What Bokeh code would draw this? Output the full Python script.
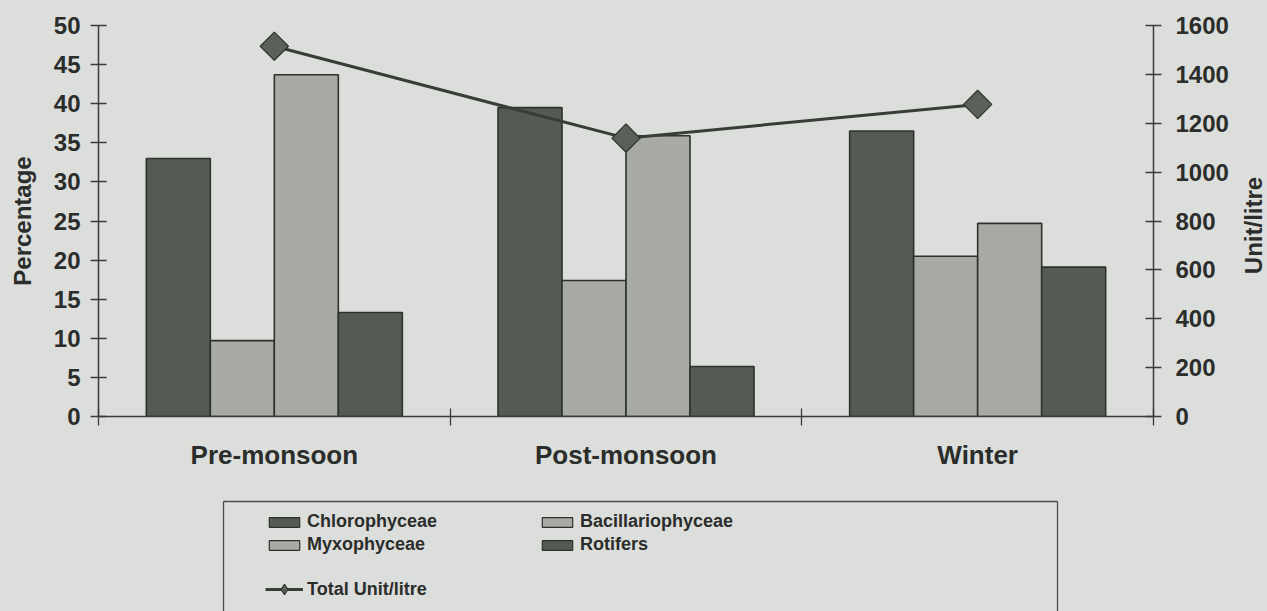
import math
from bokeh.plotting import figure
from bokeh.layouts import column, row
from bokeh.models import (ColumnDataSource, Range1d, LinearAxis, FixedTicker,
                          Legend, LegendItem)
from bokeh.core.properties import value
from bokeh.transform import dodge
from bokeh.embed import file_html
from bokeh.resources import INLINE

# ---------------- data ----------------
seasons = ["Pre-monsoon", "Post-monsoon", "Winter"]
chlorophyceae = [33.0, 39.5, 36.5]
bacillariophyceae = [9.7, 17.4, 20.5]
myxophyceae = [43.7, 35.9, 24.7]
rotifers = [13.3, 6.4, 19.1]
total_unit_litre = [1515, 1139, 1277]
left_ticks = [0, 5, 10, 15, 20, 25, 30, 35, 40, 45, 50]
right_ticks = [0, 200, 400, 600, 800, 1000, 1200, 1400, 1600]

# ---------------- style ----------------
BG = "#dcdedc"
DARK = "#555b53"
LIGHT = "#a8aaa6"
EDGE = "#2e312d"
TXT = "#2b2d2b"
AX = "#3a3c3a"
BOX = "#4a4c4a"
FONT = "Liberation Sans"

centers = [i + 0.5 for i in range(len(seasons))]
src = ColumnDataSource(dict(x=centers, chl=chlorophyceae, bac=bacillariophyceae,
                            myx=myxophyceae, rot=rotifers, tot=total_unit_litre))

p = figure(width=1237, height=490, x_range=Range1d(0, len(seasons)),
           y_range=Range1d(0, 50), output_backend="svg", toolbar_location=None,
           min_border_left=98, min_border_right=84, min_border_top=25,
           min_border_bottom=74)
p.extra_y_ranges = {"units": Range1d(0, 1600)}
p.background_fill_color = BG
p.border_fill_color = BG
p.outline_line_color = None
p.xgrid.visible = False
p.ygrid.visible = False

# ---------------- bars ----------------
w = 0.182
series = [("chl", "Chlorophyceae", DARK), ("bac", "Bacillariophyceae", LIGHT),
          ("myx", "Myxophyceae", LIGHT), ("rot", "Rotifers", DARK)]
for k, (col, name, color) in enumerate(series):
    off = (k - 1.5) * w
    p.vbar(x=dodge("x", off, range=p.x_range), top=col, width=w, bottom=0,
           source=src, fill_color=color, line_color=EDGE, line_width=1.6)

# ---------------- total line ----------------
LINE_KW = dict(line_color="#393d38", line_width=3)
MARK_FILL = dict(fill_color="#5b6159", line_color="#2e312d", line_width=1.2)
p.line(x="x", y="tot", source=src, y_range_name="units", **LINE_KW)
p.scatter(x="x", y="tot", source=src, y_range_name="units", marker="square",
          size=20, angle=math.pi / 4, **MARK_FILL)


# ---------------- axes ----------------
def tick_style(ax, size):
    ax.major_label_text_font = FONT
    ax.major_label_text_font_style = "bold"
    ax.major_label_text_font_size = size
    ax.major_label_text_color = TXT


xa = p.xaxis[0]
xa.ticker = FixedTicker(ticks=centers, minor_ticks=list(range(len(seasons) + 1)))
xa.major_label_overrides = {c: s for c, s in zip(centers, seasons)}
xa.major_tick_in = 0
xa.major_tick_out = 0
xa.minor_tick_in = 8
xa.minor_tick_out = 9
xa.minor_tick_line_color = AX
xa.minor_tick_line_width = 1.3
xa.axis_line_color = AX
xa.axis_line_width = 1.5
xa.major_label_standoff = 14
tick_style(xa, "26px")

ya = p.yaxis[0]
ya.ticker = FixedTicker(ticks=left_ticks)
ya.minor_tick_line_color = None
ya.major_tick_in = 8
ya.major_tick_out = 8
ya.major_tick_line_color = AX
ya.major_tick_line_width = 1.3
ya.axis_line_color = AX
ya.axis_line_width = 1.5
ya.major_label_standoff = 10
tick_style(ya, "24px")
ya.axis_label = "Percentage"
ya.axis_label_standoff = 15
ya.axis_label_text_font = FONT
ya.axis_label_text_font_style = "bold"
ya.axis_label_text_font_size = "24px"
ya.axis_label_text_color = TXT

ra = LinearAxis(y_range_name="units", ticker=FixedTicker(ticks=right_ticks))
ra.minor_tick_line_color = None
ra.major_tick_in = 8
ra.major_tick_out = 8
ra.major_tick_line_color = AX
ra.major_tick_line_width = 1.3
ra.axis_line_color = AX
ra.axis_line_width = 1.5
ra.major_label_standoff = 14
tick_style(ra, "24px")
p.add_layout(ra, "right")

# ---------------- right-hand title strip ("Unit/litre", reading upwards) ----------------
rp = figure(width=30, height=490, x_range=Range1d(0, 30), y_range=Range1d(0, 490),
            output_backend="svg", toolbar_location=None,
            x_axis_type=None, y_axis_type=None,
            min_border_left=0, min_border_right=0, min_border_top=0, min_border_bottom=0)
rp.background_fill_color = BG
rp.border_fill_color = BG
rp.outline_line_color = None
rp.text(x=[16], y=[265], text=["Unit/litre"], angle=math.pi / 2,
        text_align="center", text_baseline="middle", text_font=value(FONT),
        text_font_style="bold", text_font_size="24px", text_color=TXT)

# ---------------- legend panel (box below the chart) ----------------
lp = figure(width=1267, height=121, x_range=Range1d(0, 1), y_range=Range1d(0, 1),
            output_backend="svg", toolbar_location=None, x_axis_location="above",
            min_border_left=223, min_border_right=210, min_border_top=11,
            min_border_bottom=0)
lp.background_fill_color = BG
lp.border_fill_color = BG
lp.outline_line_color = None
lp.grid.visible = False
lp.add_layout(LinearAxis(), "right")
for ax in lp.axis:
    ax.ticker = FixedTicker(ticks=[])
    ax.major_tick_in = 0
    ax.major_tick_out = 0
    ax.minor_tick_line_color = None
    ax.major_label_standoff = 0
    ax.axis_line_color = BOX
    ax.axis_line_width = 1.3

for fig in (p, rp, lp):
    try:
        fig.frame_align = False
    except Exception:
        pass

# hidden legend proxies (same data and styles; only their legend swatches show)
proxy = {}
for col, name, color in series:
    proxy[name] = lp.vbar(x="x", top=col, width=w, source=src, fill_color=color,
                          line_color=EDGE, line_width=1.2, visible=False)
pl = lp.line(x="x", y="tot", source=src, visible=False, **LINE_KW)
pm = lp.scatter(x="x", y="tot", source=src, marker="diamond", size=20,
                visible=False, **MARK_FILL)


def style_legend(lg, gh):
    lg.background_fill_alpha = 0
    lg.border_line_alpha = 0
    lg.inactive_fill_alpha = 0
    lg.padding = 0
    lg.margin = 0
    lg.spacing = 0
    lg.glyph_width = 38
    lg.glyph_height = gh
    lg.label_height = 23
    lg.label_standoff = 4
    lg.label_text_font = FONT
    lg.label_text_font_style = "bold"
    lg.label_text_font_size = "18px"
    lg.label_text_color = TXT


leg1 = Legend(items=[LegendItem(label=name, renderers=[proxy[name]]) for _, name, _ in series],
              orientation="horizontal", ncols=2, location=(42, 55))
style_legend(leg1, 12)
leg1.label_width = 231
lp.add_layout(leg1)

leg2 = Legend(items=[LegendItem(label="Total Unit/litre", renderers=[pl, pm])],
              location=(42, 9))
style_legend(leg2, 26)
lp.add_layout(leg2)

html = file_html(column(row(p, rp), lp), INLINE)
html = html.replace("</head>", "<style>html, body { background: %s; }</style></head>" % BG, 1)
open("out.html", "w").write(html)
